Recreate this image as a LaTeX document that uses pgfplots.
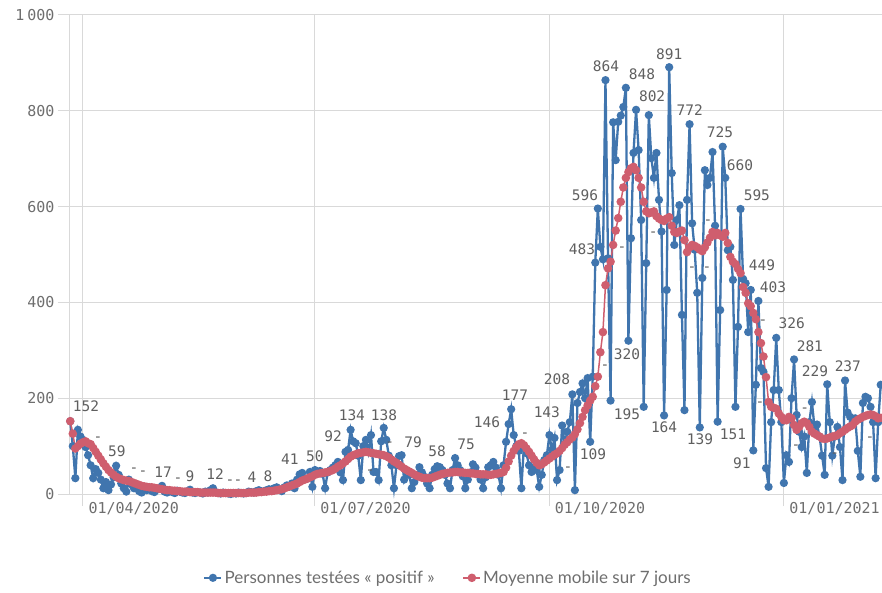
\documentclass[border=0pt]{standalone}
\usepackage{fontspec}
\setmainfont{Lato}
\newfontfamily\monof{DejaVu Sans Mono}
\usepackage{pgfplots}
\usepackage{pgfplotstable}
\pgfplotsset{compat=1.18}
\definecolor{bluec}{RGB}{64,117,174}
\definecolor{redc}{RGB}{207,94,110}
\definecolor{gridc}{RGB}{217,217,217}
\definecolor{tickc}{RGB}{110,110,110}
\definecolor{labc}{RGB}{95,95,95}
\pgfplotstableread{
d b r
86 152 152
87 100 126
88 33 95
89 134 100
90 120 105
91 113 108
92 98 110
93 81 106
94 60 104
95 33 96
96 52 88
97 44 80
98 30 72
99 12 64
100 25 57
101 8 50
102 20 45
103 35 40
104 59 36
105 40 33
106 22 31
107 12 29
108 5 28
109 30 27
110 20 25
111 12 23
112 18 21
113 6 19
114 3 17
115 10 16
116 8 15
117 14 14
118 6 14
119 4 13
120 9 12
121 12 11
122 17 10
123 5 9
124 3 8
125 6 8
126 4 7
127 2 7
128 7 6
129 5 6
130 3 5
131 2 5
132 6 5
133 9 4
134 3 4
135 2 4
136 4 4
137 3 3
138 1 3
139 5 3
140 3 3
141 8 3
142 12 3
143 4 3
144 2 2
145 1 2
146 3 2
147 2 2
148 1 2
149 0 2
150 2 2
151 1 2
152 3 2
153 2 2
154 1 2
155 2 2
156 5 3
157 4 3
158 3 3
159 6 3
160 8 4
161 5 4
162 6 5
163 8 5
164 10 6
165 9 6
166 12 7
167 14 8
168 10 9
169 6 10
170 14 12
171 18 14
172 15 16
173 22 18
174 12 20
175 30 22
176 41 25
177 44 28
178 31 30
179 32 32
180 46 35
181 15 37
182 50 40
183 47 42
184 48 43
185 42 44
186 12 45
187 45 46
188 50 48
189 55 50
190 60 53
191 67 57
192 45 60
193 29 64
194 88 68
195 92 73
196 134 78
197 110 81
198 106 83
199 80 85
200 29 86
201 100 87
202 113 88
203 88 87
204 123 86
205 46 85
206 46 84
207 29 83
208 110 82
209 138 81
210 113 79
211 80 76
212 60 72
213 12 68
214 60 65
215 79 61
216 81 57
217 30 53
218 46 50
219 40 47
220 12 44
221 25 41
222 37 38
223 56 36
224 45 34
225 36 33
226 22 33
227 12 33
228 40 34
229 52 36
230 58 38
231 56 40
232 50 42
233 40 43
234 22 44
235 12 45
236 50 45
237 75 46
238 60 46
239 50 45
240 37 45
241 12 44
242 30 44
243 45 43
244 62 43
245 55 42
246 40 42
247 30 41
248 12 41
249 35 41
250 56 40
251 60 40
252 67 41
253 55 42
254 40 43
255 12 44
256 60 46
257 109 55
258 146 68
259 177 80
260 123 90
261 100 98
262 90 104
263 12 106
264 100 102
265 85 95
266 60 88
267 46 80
268 55 72
269 50 65
270 15 60
271 40 62
272 71 66
273 81 70
274 123 74
275 92 78
276 117 82
277 29 85
278 50 90
279 143 96
280 105 103
281 130 108
282 150 114
283 208 118
284 8 125
285 190 135
286 213 148
287 231 161
288 200 175
289 242 185
290 109 195
291 245 203
292 483 225
293 596 245
294 516 296
295 490 338
296 864 436
297 492 471
298 195 485
299 776 520
300 697 550
301 777 576
302 790 610
303 808 640
304 848 660
305 320 672
306 534 680
307 712 683
308 802 676
309 718 660
310 572 640
311 182 610
312 482 590
313 791 586
314 701 588
315 660 590
316 712 580
317 614 575
318 548 572
319 164 570
320 426 575
321 891 578
322 670 560
323 520 547
324 572 545
325 603 548
326 374 550
327 175 530
328 614 505
329 772 515
330 565 520
331 510 518
332 420 515
333 139 510
334 451 507
335 676 515
336 645 525
337 660 535
338 714 547
339 560 540
340 151 545
341 384 540
342 725 537
343 660 545
344 509 524
345 516 495
346 447 485
347 182 480
348 349 470
349 595 461
350 449 432
351 440 420
352 338 398
353 426 392
354 91 378
355 228 365
356 403 338
357 263 315
358 255 287
359 54 244
360 15 192
361 150 182
362 217 180
363 326 178
364 217 168
365 150 161
366 23 154
367 81 154
368 67 161
369 200 158
370 281 144
371 165 134
372 130 140
373 98 148
374 120 151
375 44 148
376 150 140
377 192 130
378 140 126
379 145 123
380 120 120
381 80 116
382 40 115
383 229 116
384 150 118
385 80 120
386 120 121
387 140 123
388 98 127
389 29 130
390 237 134
391 170 138
392 161 141
393 150 144
394 158 151
395 90 155
396 36 158
397 190 161
398 203 163
399 200 165
400 182 166
401 150 165
402 33 162
403 150 158
404 228 159
}\data
\begin{document}
\begin{tikzpicture}
\begin{axis}[
  scale only axis, width=812pt, height=479pt,
  xmin=85.9, xmax=404.5, ymin=0, ymax=1000,
  axis x line*=bottom, axis y line*=left,
  x axis line style={-, draw=gridc, line width=1pt},
  y axis line style={-, draw=gridc, line width=1pt},
  xtick={91,182,274,366},
  xticklabels={01/04/2020,01/07/2020,01/10/2020,01/01/2021},
  ytick={0,200,400,600,800,1000},
  yticklabels={0,200,400,600,800,1\hspace{3pt}000},
  grid=major, major grid style={draw=gridc, line width=1pt},
  tick align=outside, major tick length=12pt,
  tick style={draw=gridc, line width=1pt},
  tick label style={font=\monof\fontsize{15}{17}\selectfont, text=tickc},
  xticklabel style={anchor=north west, xshift=2pt, yshift=7pt},
  clip=false,
  legend style={at={(0.4655,-0.175)}, anchor=center, draw=none, fill=none,
    legend columns=2, font=\fontsize{17}{20}\selectfont, text=tickc,
    /tikz/every even column/.append style={column sep=26pt}},
  legend cell align=left,
]
\addplot[color=bluec, line width=2.3pt, mark=*, mark size=2.9pt,
  mark options={fill=bluec, draw=bluec}] table[x=d, y=b] {\data};
\addlegendentry{Personnes testées «~positif~»}
\addplot[color=redc, line width=1.5pt, mark=*, mark size=3.5pt,
  mark options={fill=redc, draw=redc}] table[x=d, y=r] {\data};
\addlegendentry{Moyenne mobile sur 7 jours}
\addplot[draw=none, mark=none, forget plot, nodes near coords,
  point meta=explicit symbolic,
  every node near coord/.append style={font=\monof\fontsize{14.5}{16}\selectfont,
    text=labc, inner sep=0pt, yshift=-5pt}]
 coordinates {
 (92.2,182)[152] (96.9,119)[-] (104.3,88)[59] (111,54)[-] (114.5,48)[-]
 (122.4,44)[17] (128.3,33)[-] (133,36)[9] (142.8,40)[12] (148.7,29)[-]
 (151.8,29)[-] (157.3,33)[4] (163.6,36)[8] (172.2,71)[41] (182,77)[50]
 (189.1,119)[92] (196.5,163)[134] (209.1,163)[138] (211.4,109)[-]
 (203.6,50)[-] (220.5,107)[79] (229.9,88)[58] (241.3,102)[75]
 (249.5,148)[146] (260.5,205)[177] (264.4,129)[-] (273,169)[143]
 (277,238)[208] (281.3,56)[-] (291.1,81)[109] (295.8,269)[-]
 (288,622)[596] (286.8,509)[483] (302.5,516)[-] (296.2,891)[864]
 (304.4,290)[320] (310.3,875)[848] (304.4,165)[195] (314.3,829)[802]
 (314.7,547)[-] (321,917)[891] (319,138)[164] (329.1,800)[772]
 (329.9,474)[-] (336.2,572)[-] (335.8,474)[-] (333.1,113)[139]
 (340.9,754)[725] (348.8,685)[660] (346,123)[151] (355.4,622)[595]
 (357.4,476)[449] (349.5,63)[91] (361.7,430)[403] (357.8,363)[-]
 (369.1,355)[326] (356.6,192)[-] (376.2,307)[281] (378.2,255)[229]
 (370.7,102)[-] (374.2,180)[-] (391.1,265)[237] (386,86)[-] (399.8,119)[-]
 };
\end{axis}
\pgfresetboundingbox
\path ([xshift=-70pt,yshift=-98pt]current axis.south west) rectangle ([yshift=15pt]current axis.north east);
\end{tikzpicture}
\end{document}
